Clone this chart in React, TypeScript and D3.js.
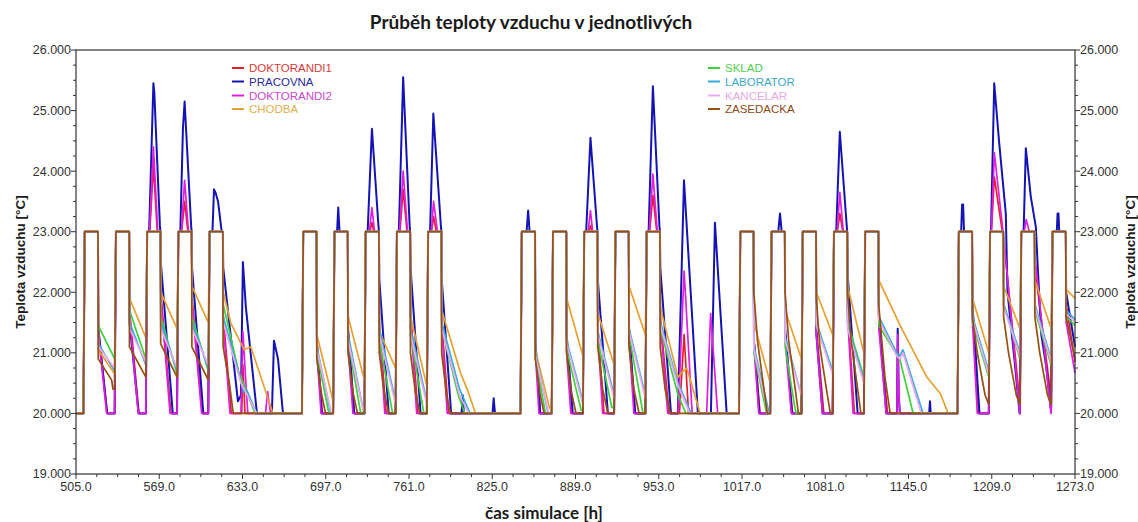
import React from 'react';
import * as d3 from 'd3';

const W = 1138;
const H = 522;
const margin = { top: 50, right: 63, bottom: 48, left: 76 };

const seriesNames = ['DOKTORANDI1', 'PRACOVNA', 'DOKTORANDI2', 'CHODBA', 'SKLAD', 'LABORATOR', 'KANCELAR', 'ZASEDACKA'];
const seriesColors = ['#e41f2d', '#1414b4', '#e01ee0', '#e8a032', '#3cd23c', '#32aadc', '#f0a8ec', '#96500f'];
const legendColors = ['#d83a3a', '#2a2aa0', '#c848d0', '#e0b050', '#50d050', '#40a8d0', '#e8a8e0', '#8a4a20'];

const xTicks = [505, 569, 633, 697, 761, 825, 889, 953, 1017, 1081, 1145, 1209, 1273];
const yTicks = [19, 20, 21, 22, 23, 24, 25, 26];

// heating plateau (23 °C) start / end hour of every working day
const pulseOn = [511.7, 535.7, 559.7, 583.7, 607.7, 679.7, 703.7, 727.7, 751.7, 775.7, 847.7, 871.7, 895.7, 919.7, 943.7, 1015.7, 1039.7, 1063.7, 1087.7, 1111.7, 1183.7, 1207.7, 1231.7, 1255.7];
const pulseOff = [521.9, 545.9, 569.9, 593.9, 617.9, 689.9, 713.9, 737.9, 761.9, 785.9, 857.9, 881.9, 905.9, 929.9, 953.9, 1025.9, 1049.9, 1073.9, 1097.9, 1121.9, 1193.9, 1217.9, 1241.9, 1265.9];

type P = [number, number][];

// overshoots above the plateau: [hours after heating on, °C]
const peaksDoktorandi1: Record<number, P> = {
  2: [[2, 23], [4.8, 24.1], [7.8, 23]],
  3: [[2.5, 23], [4.8, 23.5], [7.3, 23]],
  7: [[3.2, 23], [4.8, 23.15], [6.3, 23]],
  8: [[2.3, 23], [4.8, 23.7], [7.8, 23]],
  9: [[2.6, 23], [4.2, 23.25], [6.3, 23]],
  12: [[3.5, 23], [4.8, 23.1], [6, 23]],
  14: [[2.3, 23], [4.8, 23.6], [7.8, 23]],
  18: [[2.6, 23], [4.5, 23.3], [6.8, 23]],
  21: [[1, 23], [3.3, 23.9], [10.8, 22.8]],
};
const peaksPracovna: Record<number, P> = {
  2: [[1.5, 23], [4.8, 25.45], [5.5, 25.3], [9.8, 23.1]],
  3: [[1.5, 23], [3.5, 24.7], [4.8, 25.15], [9.8, 23.1]],
  4: [[2.2, 23], [3.4, 23.7], [4.5, 23.65], [6.5, 23.5], [9.3, 23]],
  6: [[2, 23], [2.9, 23.4], [3.9, 23]],
  7: [[1.5, 23], [4.8, 24.7], [9.8, 23.1]],
  8: [[1.5, 23], [4.8, 25.55], [9.8, 23.1]],
  9: [[1.5, 23], [4, 24.95], [9.8, 23.1]],
  10: [[3.7, 23], [4.9, 23.35], [6, 23]],
  12: [[1.5, 23], [4.8, 24.55], [9.8, 23.1]],
  14: [[1.5, 23], [4.8, 25.4], [9.8, 23.1]],
  16: [[5.2, 23], [6.5, 23.3], [7.8, 23]],
  18: [[1.7, 23], [4.5, 24.65], [9.8, 23.1]],
  20: [[1.8, 23], [2.5, 23.45], [3.3, 23.45], [4, 23]],
  21: [[0.7, 23], [3.2, 25.45], [7, 24.47], [12.1, 23.3]],
  22: [[1.8, 23], [3.5, 24.38], [7.3, 23.58], [11.2, 23.08]],
  23: [[3.3, 23], [3.9, 23.3], [4.6, 23.3], [5.2, 23]],
};
const peaksDoktorandi2: Record<number, P> = {
  2: [[1.8, 23], [4.8, 24.4], [8.2, 23]],
  3: [[2.3, 23], [4.8, 23.85], [7.8, 23]],
  7: [[2.8, 23], [4.8, 23.4], [6.8, 23]],
  8: [[2, 23], [4.8, 24.0], [8.2, 23]],
  9: [[2.4, 23], [4.2, 23.5], [7.2, 23]],
  12: [[3, 23], [4.8, 23.35], [6.5, 23]],
  14: [[2, 23], [4.8, 23.95], [8.2, 23]],
  18: [[2.4, 23], [4.5, 23.65], [7.2, 23]],
  21: [[1, 23], [3.3, 24.3], [11, 22.8]],
  22: [[2.3, 23], [3.8, 23.2], [6.2, 23]],
};

// cooling after each heating period: [hours after heating off, °C]
const nightsDoktorandi1: P[] = [
  [[0.3, 21.4], [7.2, 20]], [[0.3, 21.7], [7.5, 20]], [[0.3, 22.0], [8, 20]], [[0.3, 21.9], [8.2, 20]],
  [[0.3, 21.6], [6.5, 20], [14.5, 20], [15.4, 20.8], [17, 20]],
  [[0.3, 21.1], [4.5, 20]], [[0.3, 21.3], [5, 20]], [[0.3, 21.5], [5.5, 20]], [[0.3, 21.7], [6, 20]], [[0.3, 21.5], [5.5, 20]],
  [[0.3, 21.1], [4, 20]], [[0.3, 21.2], [4.5, 20]], [[0.3, 21.4], [5, 20]], [[0.3, 21.3], [5, 20]],
  [[0.3, 21.6], [7, 20], [15, 20], [18.6, 21.3], [22, 20]],
  [[0.3, 21.2], [5, 20]], [[0.3, 21.3], [6, 20]], [[0.3, 21.4], [6, 20]], [[0.3, 21.7], [5.5, 20]], [[0.3, 21.5], [7, 20]],
  [[0.3, 21.7], [5, 20]], [[12.6, 20.2]], [[0.3, 22.4], [12.5, 20.3]], [[0.3, 21.8], [7.1, 20.85]],
];
const nightsPracovna: P[] = [
  [[0.3, 21.4], [7, 20]], [[0.3, 21.5], [7.2, 20]], [[0.3, 22.5], [9.5, 20]], [[0.3, 22.4], [9, 20]],
  [[0.3, 22.4], [11.6, 20.2], [13.9, 20.3], [15.4, 22.5], [17.7, 21.75], [26.2, 20], [37.7, 20], [39.3, 21.2], [42.4, 20.9], [46.2, 20]],
  [[0.3, 21.2], [4, 20]], [[0.3, 21.4], [5, 20]], [[0.3, 22.2], [7.5, 20]], [[0.3, 22.4], [8, 20]],
  [[0.3, 22.2], [7.5, 20], [15.5, 20], [16.4, 20.3], [17.3, 20], [39.3, 20], [40.2, 20.25], [41.2, 20]],
  [[0.3, 21.2], [4, 20]], [[0.3, 21.3], [5, 20]], [[0.3, 22.2], [8, 20]], [[0.3, 21.4], [5, 20]],
  [[0.3, 22.4], [8.5, 20], [13.8, 20], [18.5, 23.85], [29.2, 20], [39.2, 20], [42.3, 23.15], [51.3, 20]],
  [[0.3, 21.2], [4.5, 20]], [[0.3, 21.4], [5.5, 20]], [[0.3, 21.3], [5, 20]], [[0.3, 22.3], [8, 20]],
  [[0.3, 21.6], [6, 20], [14.2, 20], [14.8, 21.4], [15.6, 20.3], [16.5, 20], [39, 20], [39.6, 20.2], [40.2, 20]],
  [[0.3, 21.8], [5.7, 20]], [[3.2, 22.0], [8.6, 20.88], [12.5, 20]], [[2.5, 22.4], [5.2, 21.3], [9, 20.77], [12.3, 20.1]],
  [[0.3, 22.0], [7.1, 21.1]],
];
const nightsDoktorandi2: P[] = [
  [[0.3, 21.3], [6.7, 20]], [[0.3, 21.6], [7, 20]], [[0.3, 21.9], [7.4, 20]], [[0.3, 21.8], [7.7, 20]],
  [[0.3, 21.5], [5.5, 20], [13.9, 20], [15.4, 21.35], [17.7, 20.5], [19.2, 20], [32.8, 20], [34.4, 20.36], [36.7, 20]],
  [[0.3, 21.0], [3.5, 20]], [[0.3, 21.1], [4, 20]], [[0.3, 21.4], [4.5, 20]], [[0.3, 21.6], [5, 20]], [[0.3, 21.4], [4.5, 20]],
  [[0.3, 21.0], [3, 20]], [[0.3, 21.0], [3.5, 20]], [[0.3, 21.3], [4, 20]], [[0.3, 21.2], [4, 20]],
  [[0.3, 21.5], [6, 20], [14, 20], [18.6, 22.35], [24.8, 20], [35.9, 20], [39, 21.65], [44.4, 20]],
  [[0.3, 21.1], [4, 20]], [[0.3, 21.2], [5, 20]], [[0.3, 21.3], [5, 20]], [[0.3, 21.6], [4.5, 20]],
  [[0.3, 21.4], [6, 20], [14.2, 20], [14.8, 21.3], [15.8, 20.2], [16.5, 20]],
  [[0.3, 21.5], [4, 20]], [[12.7, 20]], [[0.3, 22.6], [12.6, 20]], [[0.3, 21.5], [7.1, 20.67]],
];
const nightsChodba: P[] = [
  [[0.3, 21.05], [12.8, 20.65]], [[0.3, 21.9], [12.8, 21.25]], [[0.3, 22.0], [12.8, 21.4]], [[0.3, 22.1], [12.8, 21.5]],
  [[0.3, 22.0], [6, 21.5], [16.4, 21.05], [21.5, 21.1], [38.5, 20]],
  [[0.3, 21.3], [12.8, 20.2]], [[0.3, 21.6], [12.8, 20.55]], [[0.3, 21.35], [12.8, 20.75]], [[0.3, 21.6], [12.8, 20.45]],
  [[0.3, 21.7], [14.7, 20.67], [20, 20.39], [26.3, 20]],
  [[0.3, 21.05], [11, 20.1], [12.8, 20.05]], [[0.3, 21.9], [12.8, 20.95]], [[0.3, 21.65], [12.8, 20.8]], [[0.3, 22.1], [12.8, 21.3]],
  [[0.3, 21.75], [13.9, 20.6], [18, 20.7], [20.6, 20.75], [31, 20]],
  [[0.3, 21.5], [12.8, 20.5]], [[0.3, 21.7], [12.8, 20.9]], [[0.3, 22.0], [12.8, 21.3]], [[0.3, 22.1], [12.8, 21.0]],
  [[0.3, 22.2], [16.7, 21.45], [37.2, 20.6], [47.5, 20.33], [53.6, 20]],
  [[0.3, 21.9], [12.8, 21.0]], [[0.3, 22.1], [12.8, 21.4]], [[0.3, 22.2], [12.8, 21.4]], [[0.3, 22.05], [7.1, 21.9]],
];
const nightsSklad: P[] = [
  [[0.3, 21.45], [12.8, 20.9]], [[0.3, 21.7], [12.8, 20.9]], [[0.3, 21.6], [12.8, 20.65]], [[0.3, 21.6], [12.8, 20.7]],
  [[0.3, 21.8], [12, 20.7], [24.7, 20]],
  [[0.3, 21.0], [9.5, 20]], [[0.3, 21.2], [10, 20]], [[0.3, 21.2], [10.5, 20]], [[0.3, 21.3], [10.5, 20]],
  [[0.3, 21.4], [13, 20.3], [18, 20]],
  [[0.3, 20.9], [8, 20]], [[0.3, 21.05], [11.5, 20.05]], [[0.3, 21.2], [11, 20.1]], [[0.3, 21.3], [11, 20]],
  [[0.3, 21.4], [14, 20.3], [20, 20]],
  [[0.3, 21.0], [10, 20]], [[0.3, 21.1], [7.7, 20.1], [9, 20]], [[0.3, 21.45], [11.8, 20.75]], [[0.3, 21.5], [12.8, 20.6]],
  [[0.3, 21.45], [16.6, 20.88], [26.7, 20]],
  [[0.3, 21.5], [12.8, 20.6]], [[0.3, 21.8], [12.8, 20.9]], [[0.3, 21.7], [12.8, 20.8]], [[0.3, 21.6], [7.1, 21.45]],
];
const nightsLaborator: P[] = [
  [[0.3, 21.15], [12.8, 20.7]], [[0.3, 21.5], [12.8, 20.8]], [[0.3, 21.5], [12.8, 20.7]], [[0.3, 21.5], [12.8, 20.75]],
  [[0.3, 21.6], [13, 20.6], [16, 20.35], [18, 20.4], [26, 20]],
  [[0.3, 21.1], [11, 20]], [[0.3, 21.3], [11.5, 20.1], [12.5, 20]], [[0.3, 21.4], [12.8, 20.2]], [[0.3, 21.4], [12.8, 20.2]],
  [[0.3, 21.5], [14, 20.4], [22, 20]],
  [[0.3, 21.0], [10, 20]], [[0.3, 21.2], [12.8, 20.2]], [[0.3, 21.35], [12.8, 20.3]], [[0.3, 21.4], [12.8, 20.3]],
  [[0.3, 21.5], [14, 20.5], [24, 20]],
  [[0.3, 21.1], [11, 20.1], [12, 20]], [[0.3, 21.27], [11.4, 20.4], [12.8, 20.35]], [[0.3, 21.5], [12.8, 20.7]], [[0.3, 21.45], [12, 20.6], [12.8, 20.55]],
  [[0.3, 21.6], [14, 21.0], [16.5, 20.95], [18.8, 21.05], [34.3, 20]],
  [[0.3, 21.6], [12.8, 20.7]], [[0.3, 21.8], [12.8, 21.0]], [[0.3, 21.8], [12.8, 20.9]], [[0.3, 21.7], [7.1, 21.55]],
];
const nightsKancelar: P[] = [
  [[0.3, 21.1], [12.8, 20.75]], [[0.3, 21.4], [12.8, 20.85]], [[0.3, 21.4], [12.8, 20.75]], [[0.3, 21.4], [12.8, 20.8]],
  [[0.3, 21.5], [14, 20.5], [26, 20]],
  [[0.3, 21.05], [11.5, 20]], [[0.3, 21.2], [12, 20.05]], [[0.3, 21.3], [12.8, 20.15]], [[0.3, 21.3], [12.8, 20.15]],
  [[0.3, 21.4], [14, 20.3], [21, 20]],
  [[0.3, 20.95], [10.5, 20]], [[0.3, 21.15], [12.8, 20.15]], [[0.3, 21.3], [12.8, 20.25]], [[0.3, 21.35], [12.8, 20.25]],
  [[0.3, 21.45], [14, 20.45], [23, 20]],
  [[0.3, 21.05], [11, 20]], [[0.3, 21.2], [12.8, 20.3]], [[0.3, 21.45], [12.8, 20.65]], [[0.3, 21.4], [12.8, 20.5]],
  [[0.3, 21.55], [14, 20.95], [16.5, 20.9], [18.8, 21.0], [33, 20]],
  [[0.3, 21.55], [12.8, 20.65]], [[0.3, 21.75], [12.8, 20.95]], [[0.3, 21.75], [12.8, 20.85]], [[0.3, 21.65], [7.1, 21.5]],
];
const nightsZasedacka: P[] = [
  [[0.2, 20.9], [10.5, 20.55], [11.5, 20.4]], [[0.2, 21.1], [12.8, 20.6]], [[0.2, 21.15], [12.8, 20.6]], [[0.2, 21.1], [12.8, 20.55]],
  [[0.2, 21.1], [5, 20.5], [8, 20]],
  [[0.2, 20.9], [4, 20.3], [7, 20]], [[0.2, 21.0], [4, 20.35], [7.5, 20]], [[0.2, 21.0], [4, 20.35], [7.5, 20]], [[0.2, 21.0], [4, 20.35], [7.5, 20]],
  [[0.2, 21.0], [4, 20.3], [7, 20]],
  [[0.2, 20.9], [4, 20.3], [7, 20]], [[0.2, 21.0], [4, 20.35], [7.5, 20]], [[0.2, 21.1], [4, 20.4], [8, 20]], [[0.2, 21.1], [4, 20.4], [8, 20]],
  [[0.2, 21.1], [4, 20.4], [8, 20]],
  [[0.2, 22.0], [3, 21.2], [8, 20.4], [10.5, 20]], [[0.2, 22.0], [3, 21.2], [8, 20.4], [10.5, 20]], [[0.2, 21.9], [3, 21.1], [8, 20.4], [11, 20]], [[0.2, 22.0], [3, 21.2], [8, 20.4], [10.5, 20]],
  [[0.2, 21.8], [5, 20.6], [9, 20]],
  [[0.2, 21.6], [4, 21.0], [10, 20.3], [12.8, 20.15]], [[0.2, 21.6], [4, 21.0], [10, 20.3], [12.8, 20.15]], [[0.2, 21.6], [4, 21.0], [10, 20.3], [12.8, 20.15]],
  [[0.2, 21.6], [7.1, 20.9]],
];

const seriesNights = [nightsDoktorandi1, nightsPracovna, nightsDoktorandi2, nightsChodba, nightsSklad, nightsLaborator, nightsKancelar, nightsZasedacka];
const seriesPeaks: Record<number, P>[] = [peaksDoktorandi1, peaksPracovna, peaksDoktorandi2, {}, {}, {}, {}, {}];

function buildPoints(nights: P[], peaks: Record<number, P>): P {
  const pts: P = [[505, 20]];
  const push = (t: number, v: number) => {
    if (t > pts[pts.length - 1][0]) pts.push([t, v]);
  };
  pulseOn.forEach((on, i) => {
    const last = pts[pts.length - 1];
    push(on - 1, last[1]);
    push(on, 23);
    (peaks[i] || []).forEach(([dt, v]) => push(on + dt, v));
    push(pulseOff[i], 23);
    nights[i].forEach(([dt, v]) => push(pulseOff[i] + dt, v));
  });
  push(1273, pts[pts.length - 1][1]);
  return pts;
}

export default function App() {
  const x = d3.scaleLinear().domain([505, 1273]).range([margin.left, W - margin.right]);
  const y = d3.scaleLinear().domain([19, 26]).range([H - margin.bottom, margin.top]);
  const line = d3.line<[number, number]>().x(d => x(d[0])).y(d => y(d[1]));

  const x0 = x(505), x1 = x(1273), y0 = y(19), y1 = y(26);
  const xMinor = d3.range(505, 1274, 16);
  const yMinor = d3.range(19, 26.001, 0.25);
  const fx = d3.format('.1f');
  const fy = d3.format('.3f');
  const axisColor = '#333';
  const tickFont = "'Liberation Sans', Arial, sans-serif";

  return (
    <svg width={W} height={H} style={{ position: 'absolute', left: 0, top: 0, background: '#fff' }}>
      <text x={531} y={29} textAnchor="middle" fontFamily="Lato, sans-serif" fontWeight="bold" fontSize={19} fill="#1a1a1a">
        Průběh teploty vzduchu v jednotlivých
      </text>

      <g>
        {seriesNames.map((name, i) => (
          <path key={name} d={line(buildPoints(seriesNights[i], seriesPeaks[i])) || ''} fill="none"
            stroke={seriesColors[i]} strokeWidth={i === 1 ? 2 : 1.7} strokeLinejoin="round" />
        ))}
      </g>

      {/* frame */}
      <rect x={x0} y={y1} width={x1 - x0} height={y0 - y1} fill="none" stroke={axisColor} strokeWidth={1.2} />

      {/* x ticks */}
      {xMinor.map(t => (
        <line key={'xm' + t} x1={x(t)} x2={x(t)} y1={y0} y2={y0 + (xTicks.includes(t) ? 5 : 3)} stroke={axisColor} />
      ))}
      {xTicks.map(t => (
        <text key={'xl' + t} x={x(t)} y={y0 + 17} textAnchor="middle" fontFamily={tickFont} fontSize={12.5} fill="#333">{fx(t)}</text>
      ))}

      {/* y ticks, both sides */}
      {yMinor.map(t => {
        const len = Number.isInteger(t) ? 5 : 3;
        return (
          <g key={'ym' + t}>
            <line x1={x0 - len} x2={x0} y1={y(t)} y2={y(t)} stroke={axisColor} />
            <line x1={x1} x2={x1 + len} y1={y(t)} y2={y(t)} stroke={axisColor} />
          </g>
        );
      })}
      {yTicks.map(t => (
        <g key={'yl' + t}>
          <text x={x0 - 5} y={y(t)} dy="0.35em" textAnchor="end" fontFamily={tickFont} fontSize={12.5} fill="#333">{fy(t)}</text>
          <text x={x1 + 5} y={y(t)} dy="0.35em" textAnchor="start" fontFamily={tickFont} fontSize={12.5} fill="#333">{fy(t)}</text>
        </g>
      ))}

      {/* axis titles */}
      <text x={544} y={519} textAnchor="middle" fontFamily="Lato, sans-serif" fontWeight="bold" fontSize={17} fill="#1a1a1a">čas simulace [h]</text>
      <text transform={`translate(20,${(y0 + y1) / 2}) rotate(-90)`} textAnchor="middle" dy="0.35em" fontFamily={tickFont} fontWeight="bold" fontSize={13.5} fill="#1a1a1a">Teplota vzduchu [°C]</text>
      <text transform={`translate(1130,${(y0 + y1) / 2}) rotate(-90)`} textAnchor="middle" dy="0.35em" fontFamily={tickFont} fontWeight="bold" fontSize={13.5} fill="#1a1a1a">Teplota vzduchu [°C]</text>

      {/* legend */}
      {seriesNames.map((name, i) => {
        const lx = i < 4 ? 232 : 708;
        const ly = [68, 81.5, 95.5, 109][i % 4];
        return (
          <g key={'lg' + name}>
            <line x1={lx} x2={lx + 12} y1={ly} y2={ly} stroke={seriesColors[i]} strokeWidth={2} />
            <text x={lx + 17} y={ly} dy="0.36em" fontFamily={tickFont} fontSize={11.5} fill={legendColors[i]}>{name}</text>
          </g>
        );
      })}
    </svg>
  );
}
